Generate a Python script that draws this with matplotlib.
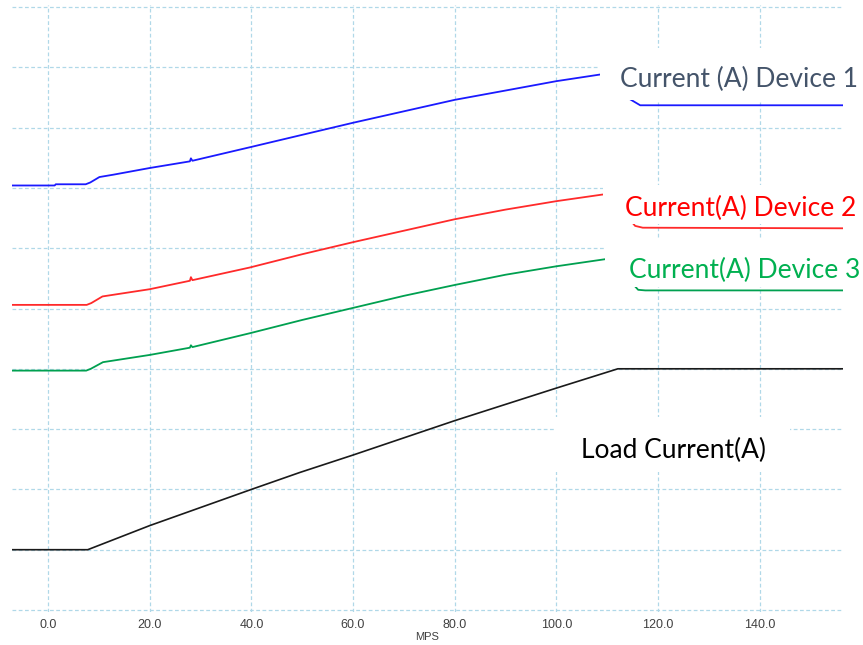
import numpy as np
import matplotlib.pyplot as plt
from matplotlib.patches import Rectangle

# MPS readings and currents for each trace
dev1_x = [-7.1, 1.3, 1.5, 7.4, 8.3, 10.1, 12.9, 20.0, 27.9, 28.1, 28.4, 40.0, 50.0, 60.0,
          70.0, 80.0, 91.0, 100.0, 108.6, 110.5, 112.5, 114.5, 116.5, 130.0, 156.4]
dev1_y = [7.04, 7.04, 7.06, 7.06, 7.09, 7.18, 7.22, 7.33, 7.44, 7.49, 7.45, 7.68, 7.88, 8.08,
          8.27, 8.46, 8.63, 8.77, 8.88, 8.87, 8.70, 8.47, 8.37, 8.37, 8.37]

dev2_x = [-7.1, 7.6, 8.5, 10.7, 20.0, 27.9, 28.1, 28.4, 39.7, 50.0, 60.0, 70.0, 80.0, 90.0,
          100.0, 109.1, 110.5, 113.0, 115.5, 117.0, 156.4]
dev2_y = [5.06, 5.06, 5.09, 5.20, 5.32, 5.46, 5.52, 5.47, 5.68, 5.90, 6.10, 6.29, 6.48, 6.64,
          6.78, 6.89, 6.88, 6.62, 6.37, 6.34, 6.33]

dev3_x = [-7.1, 7.5, 8.4, 10.8, 20.0, 27.9, 28.1, 28.4, 39.7, 50.0, 60.0, 70.0, 80.0, 90.0,
          100.0, 109.8, 111.0, 113.5, 116.1, 117.5, 156.4]
dev3_y = [3.97, 3.97, 4.00, 4.11, 4.23, 4.35, 4.39, 4.36, 4.59, 4.81, 5.01, 5.21, 5.39, 5.56,
          5.70, 5.82, 5.81, 5.55, 5.31, 5.30, 5.30]

load_x = [-7.1, 7.8, 20.0, 40.0, 49.5, 60.0, 80.0, 100.0, 112.1, 156.4]
load_y = [1.0, 1.0, 1.40, 2.00, 2.28, 2.57, 3.14, 3.68, 4.0, 4.0]

xticks = [0, 20, 40, 60, 80, 100, 120, 140]

fig = plt.figure(figsize=(8.63, 6.45), dpi=100)
ax = fig.add_axes([12 / 863, 33 / 645, 831 / 863, 607 / 645])

ax.plot(dev1_x, dev1_y, color='#1a1aff', lw=1.3)
ax.plot(dev2_x, dev2_y, color='#ff2a2a', lw=1.3)
ax.plot(dev3_x, dev3_y, color='#00a050', lw=1.3)
ax.plot(load_x, load_y, color='#1a1a1a', lw=1.2)

ax.set_xlim(-7.1, 156.4)
ax.set_ylim(-0.033, 10.033)
ax.set_xticks(xticks)
ax.set_xticklabels(['%.1f' % v for v in xticks])
ax.set_yticks(np.arange(0, 11, 1))
ax.set_yticklabels([])
ax.tick_params(axis='both', length=0)
ax.tick_params(axis='x', labelsize=9, labelcolor='#404040', pad=5)
for lab in ax.get_xticklabels():
    lab.set_family(['Liberation Sans Narrow', 'Liberation Sans'])
ax.set_xlabel('MPS', fontsize=8, color='#404040', labelpad=1,
              family=['Liberation Sans Narrow', 'Liberation Sans'])
ax.grid(True, color='#b0d8e8', linestyle=(0, (3, 2)), lw=0.9)
for s in ax.spines.values():
    s.set_visible(False)

# white label boxes sitting over the traces
label_font = ['Lato', 'DejaVu Sans']
boxes = [(108.6, 8.46, 52, 0.86), (109.2, 6.40, 52, 0.65), (109.6, 5.36, 52, 0.78),
         (99.7, 2.29, 46.3, 0.91)]
for bx, by, bw, bh in boxes:
    ax.add_patch(Rectangle((bx, by), bw, bh, facecolor='white', edgecolor='none',
                           zorder=4, clip_on=False))

ax.text(112.5, 8.67, 'Current (A) Device 1', color='#44546a', fontsize=19,
        family=label_font, zorder=5, clip_on=False)
ax.text(113.5, 6.53, 'Current(A) Device 2', color='#ff0000', fontsize=19,
        family=label_font, zorder=5, clip_on=False)
ax.text(114.3, 5.51, 'Current(A) Device 3', color='#00b050', fontsize=19,
        family=label_font, zorder=5, clip_on=False)
ax.text(104.8, 2.52, 'Load Current(A)', color='black', fontsize=19,
        family=label_font, zorder=5, clip_on=False)

fig.savefig('out.png', dpi=100)
